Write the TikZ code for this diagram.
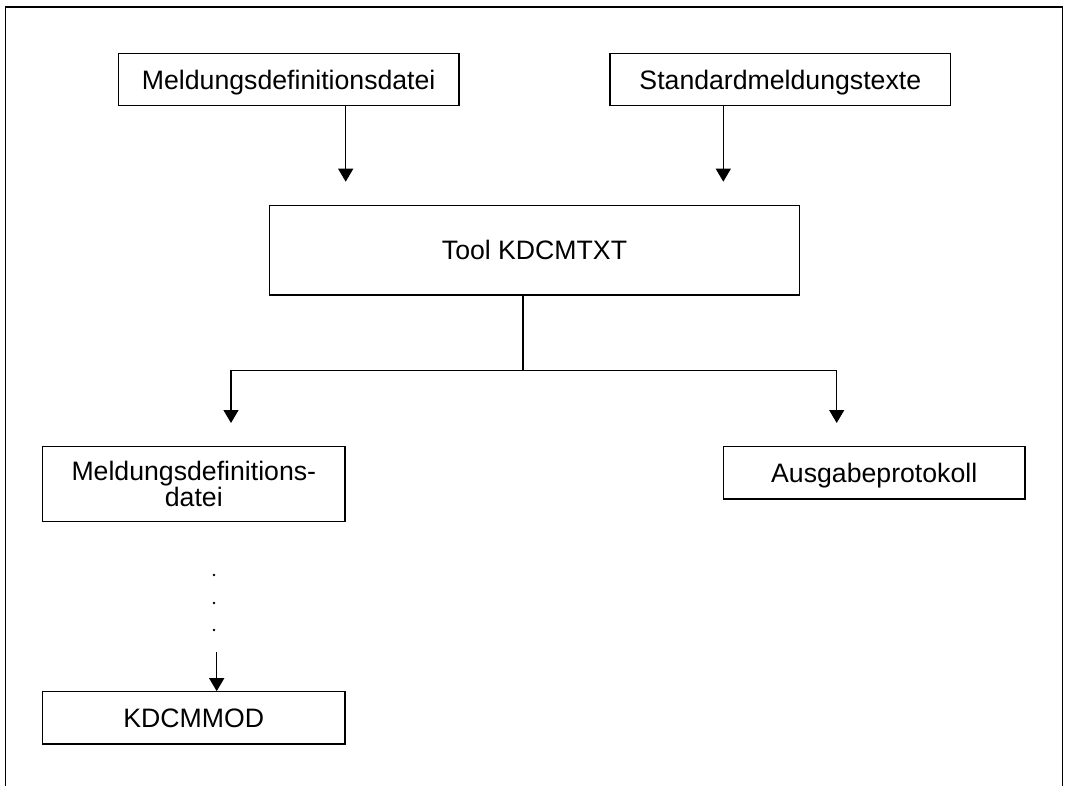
\documentclass[tikz,border=0pt]{standalone}
\usepackage{fontspec}
\setmainfont{Liberation Sans}
\usetikzlibrary{arrows.meta,calc}

\begin{document}
\begin{tikzpicture}[x=0.75pt, y=-0.75pt,
        box/.style={draw, line width=0.9pt, inner sep=0pt, align=center, font=\fontsize{20}{19.5}\selectfont},
        oneline/.style={box, text height=14.3pt, text depth=0pt},
        arr/.style={line width=0.9pt, -{Triangle[length=9.75pt, width=11.25pt]}}]
        \useasboundingbox (0,0) rectangle (1066,786);

        % Outer frame (open at the bottom)
        \draw[line width=0.9pt] (5.3,786) -- (5.3,7) -- (1062.7,7) -- (1062.7,786);

        % Input files
        \node[oneline, minimum width=255.5pt, minimum height=39.3pt] (mdd) at (288.7,79.5) {Meldungsdefinitionsdatei};
        \node[oneline, minimum width=255.5pt, minimum height=39.3pt] (std) at (780.3,79.5) {Standardmeldungstexte};

        % The tool
        \node[oneline, minimum width=398pt, minimum height=67.3pt] (tool) at (534.5,250.2) {Tool KDCMTXT};

        % Outputs
        \node[box, minimum width=226.7pt, minimum height=56.3pt] (mddout) at (193.8,484.2) {Meldungsdefinitions-\\datei};
        \node[oneline, minimum width=226.3pt, minimum height=39.2pt] (prot) at (874.2,472.9) {Ausgabeprotokoll};
        \node[oneline, minimum width=227pt, minimum height=39.2pt] (mod) at (193.7,717.9) {KDCMMOD};

        % Arrows into the tool (they stop short of the box)
        \coordinate (mddin) at (345.7,181.7);
        \coordinate (stdin) at (723.3,181.7);
        \draw[arr] (mdd.south -| mddin) -- (mddin);
        \draw[arr] (std.south -| stdin) -- (stdin);

        % Branching below the tool
        \coordinate (split) at (523,370.7);
        \coordinate (outl) at (231,423);
        \coordinate (outr) at (836.7,423);
        \draw[line width=0.9pt] (tool.south -| split) -- (split);
        \draw[arr] (split) -| (outl);
        \draw[arr] (split) -| (outr);

        % Dots and the last step
        \foreach \y in {575,603,630}
            \fill (214,\y) circle (1pt);
        \coordinate (modin) at (216.7,652);
        \draw[arr] (modin) -- (modin |- mod.north);

    \end{tikzpicture}
\end{document}
